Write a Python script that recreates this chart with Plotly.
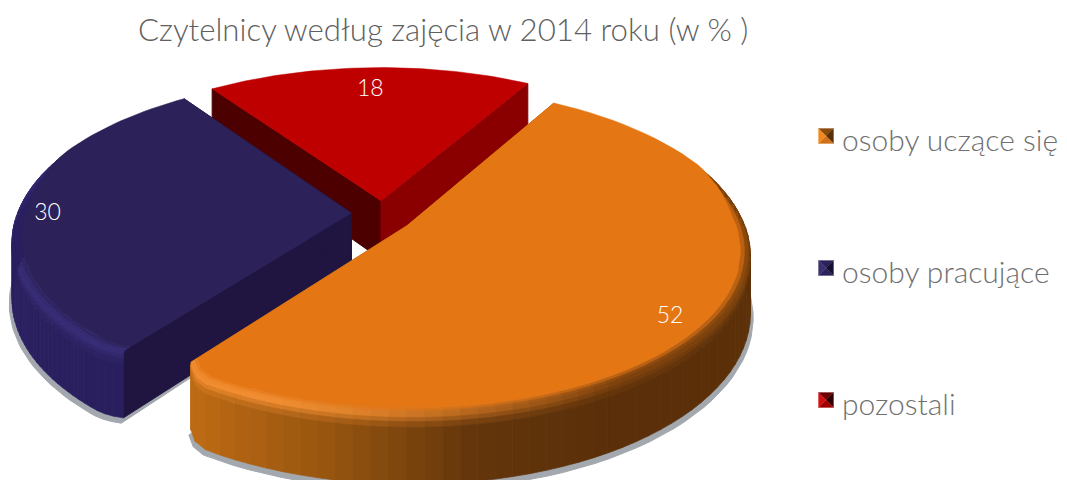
import math
import plotly.graph_objects as go

categories = ["osoby uczące się", "osoby pracujące", "pozostali"]
values = [52, 30, 18]
title_text = "Czytelnicy według zajęcia w 2014 roku (w % )"

base_colors = ["#E57614", "#2C2159", "#BF0000"]
wall_left = ["#B8640F", "#1F1540", "#4D0000"]
wall_right = ["#B8640F", "#1F1540", "#8A0000"]
light_colors = ["#F5953A", "#3A2E7E", "#BF0000"]
side_stops = [
    [(-1, "#C26C16"), (-0.55, "#BC6A14"), (-0.2, "#96540F"), (0.15, "#64360B"), (0.5, "#5A2F09"), (1, "#5C3009")],
    [(-1, "#2B2060"), (-0.6, "#2A1F5E"), (0, "#231950"), (1, "#231950")],
    [(-1, "#700000"), (1, "#700000")],
]
# placement of the 3D scene
START = 60.0
CX, CY = 380.0, 229.0
RX, RY, PERSP, DEPTH = 340.0, 161.0, 0.15, 60.0
OFFSETS = [(27 / 340, 0.02), (-29 / 340, 0.10), (1 / 340, 0.18)]
LABEL_R = 0.85
LABEL_NUDGE = [(3, 10), (-20, 4), (0, 5)]
# rounding of the front corner of a slice: (which end, depth, span in degrees)
ROUND = [(1, 0.05, 6.0), (0, 0.02, 5.0), (0, 0.0, 1.0)]


def hex2rgb(c):
    return tuple(int(c[i:i + 2], 16) for i in (1, 3, 5))


def mix(a, b, t):
    t = max(0.0, min(1.0, t))
    ra, rb = hex2rgb(a), hex2rgb(b)
    return "#%02X%02X%02X" % tuple(round(ra[i] + (rb[i] - ra[i]) * t) for i in range(3))


def stop_color(stops, x):
    for (x0, c0), (x1, c1) in zip(stops, stops[1:]):
        if x <= x1:
            return mix(c0, c1, (x - x0) / (x1 - x0))
    return stops[-1][1]


def proj(x, y, z=0.0):
    w = 1 + PERSP * y
    return CX + RX * x / w, CY - RY * y / w + DEPTH * z / w


fig = go.Figure()


def poly(pts, color, line=1.0):
    xs = [p[0] for p in pts] + [pts[0][0]]
    ys = [p[1] for p in pts] + [pts[0][1]]
    fig.add_trace(go.Scatter(x=xs, y=ys, mode="lines", fill="toself", fillcolor=color,
                             line=dict(color=color, width=line), hoverinfo="skip", showlegend=False))


angles = []
a = START
for v in values:
    a2 = a - v * 3.6
    angles.append((a, a2))
    a = a2

N = 72


def cut(i, deg):
    end, depth, span = ROUND[i]
    d = abs(deg - angles[i][end])
    return 1 - depth * (1 - min(d / span, 1)) ** 2


def point(i, deg, r, z=0.0):
    ox, oy = OFFSETS[i]
    t = math.radians(deg)
    rr = r * cut(i, deg)
    return proj(ox + rr * math.cos(t), oy + rr * math.sin(t), z)


def arc(i, r, z, steps=N):
    a0, a1 = angles[i]
    return [point(i, a0 + (a1 - a0) * k / steps, r, z) for k in range(steps + 1)]


# shadows
for i in (0, 1):
    ox, oy = OFFSETS[i]
    pts = [(p[0], p[1] + 4) for p in arc(i, 1.008, 1.0)] + [proj(ox, oy, 1.0)]
    poly(pts, "#A3A8AE")

for i in (2, 1, 0):
    ox, oy = OFFSETS[i]
    # radial walls
    rim = arc(i, 1, 0)
    rim_low = arc(i, 1, 1)
    ap, ap_low = proj(ox, oy, 0), proj(ox, oy, 1)
    poly([ap, rim[0], rim_low[0], ap_low], wall_left[i] if i == 2 else wall_right[i])
    poly([ap, rim[-1], rim_low[-1], ap_low], wall_right[i] if i == 2 else wall_left[i])
    # outer wall and bevel
    a0, a1 = angles[i]
    for k in range(N):
        dm = a0 + (a1 - a0) * (k + 0.5) / N
        tm = math.radians(dm)
        xm, ym = math.cos(tm), math.sin(tm)
        da = a0 + (a1 - a0) * k / N
        db = a0 + (a1 - a0) * (k + 1) / N
        side = stop_color(side_stops[i], xm)
        if ym > 0.6 or i == 2:
            continue  # hidden behind the top face
        hl = mix(side, light_colors[i], (0.55 - xm) / 0.9)
        hl = mix(hl, base_colors[i], 0.25)
        ring = [(0.972, 0.0), (0.985, 0.0), (0.995, 0.0), (1.0, 0.05), (1.0, 0.11), (1.0, 0.19), (1.0, 1.0)]
        cols = [mix(base_colors[i], hl, 0.4), mix(base_colors[i], hl, 0.85), hl,
                mix(hl, side, 0.35), mix(hl, side, 0.75), side]
        for j, c in enumerate(cols):
            (r1, z1), (r2, z2) = ring[j], ring[j + 1]
            poly([point(i, da, r1, z1), point(i, db, r1, z1),
                  point(i, db, r2, z2), point(i, da, r2, z2)], c, 0.7)
    # top face: full radius at the back, inside the bevel at the front
    top = []
    for k in range(N + 1):
        d = a0 + (a1 - a0) * k / N
        s = max(0.0, min(1.0, (math.sin(math.radians(d)) - 0.1) / 0.3))
        r = 1.0 if i == 2 else 0.972 + 0.028 * s
        top.append(point(i, d, r))
    poly(top + [ap], base_colors[i], 0.5)

# value labels
lx, ly = [], []
for i in range(3):
    mid = math.radians(sum(angles[i]) / 2)
    ox, oy = OFFSETS[i]
    p = proj(ox + LABEL_R * math.cos(mid), oy + LABEL_R * math.sin(mid))
    lx.append(p[0] + LABEL_NUDGE[i][0])
    ly.append(p[1] + LABEL_NUDGE[i][1])
fig.add_trace(go.Scatter(x=lx, y=ly, mode="text", text=[str(v) for v in values],
                         textfont=dict(family="Lato Light, Lato", size=23, color="#FFFFFF"),
                         hoverinfo="skip", showlegend=False))

# legend
LEG_X, LEG_TX, LEG_Y, LEG_H = 826, 840, [136, 268, 400], 7.5
tri_cols = [("#8A4A0C", "#F08A20", "#5A3008", "#D07018"),
            ("#2C2159", "#3A3070", "#141030", "#2C2159"),
            ("#6A0000", "#D01010", "#300000", "#A00000")]
for i, yy in enumerate(LEG_Y):
    c = (LEG_X, yy)
    h = LEG_H
    corners = [(c[0] - h, c[1] - h), (c[0] + h, c[1] - h), (c[0] + h, c[1] + h), (c[0] - h, c[1] + h)]
    top_c, left_c, right_c, bottom_c = tri_cols[i]
    poly([corners[0], corners[1], c], top_c, 0.3)
    poly([corners[1], corners[2], c], right_c, 0.3)
    poly([corners[2], corners[3], c], bottom_c, 0.3)
    poly([corners[3], corners[0], c], left_c, 0.3)
    fig.add_annotation(x=LEG_TX, y=yy + 3, text=categories[i], showarrow=False, xanchor="left",
                       yanchor="middle",
                       font=dict(family="Lato Light, Lato", size=30, color="#707070"))

fig.add_annotation(x=443, y=29, text=title_text, showarrow=False, xanchor="center", yanchor="middle",
                   font=dict(family="Lato Light, Lato", size=31.2, color="#606060"))

fig.update_layout(
    width=1067, height=480, autosize=False,
    margin=dict(l=0, r=0, t=0, b=0),
    paper_bgcolor="#FFFFFF", plot_bgcolor="#FFFFFF",
    xaxis=dict(range=[0, 1067], visible=False, fixedrange=True),
    yaxis=dict(range=[480, 0], visible=False, fixedrange=True),
    showlegend=False,
)
fig.write_html("out.html", config={"displayModeBar": False},
               post_script="document.body.style.margin='0';document.documentElement.style.overflow='hidden';")
